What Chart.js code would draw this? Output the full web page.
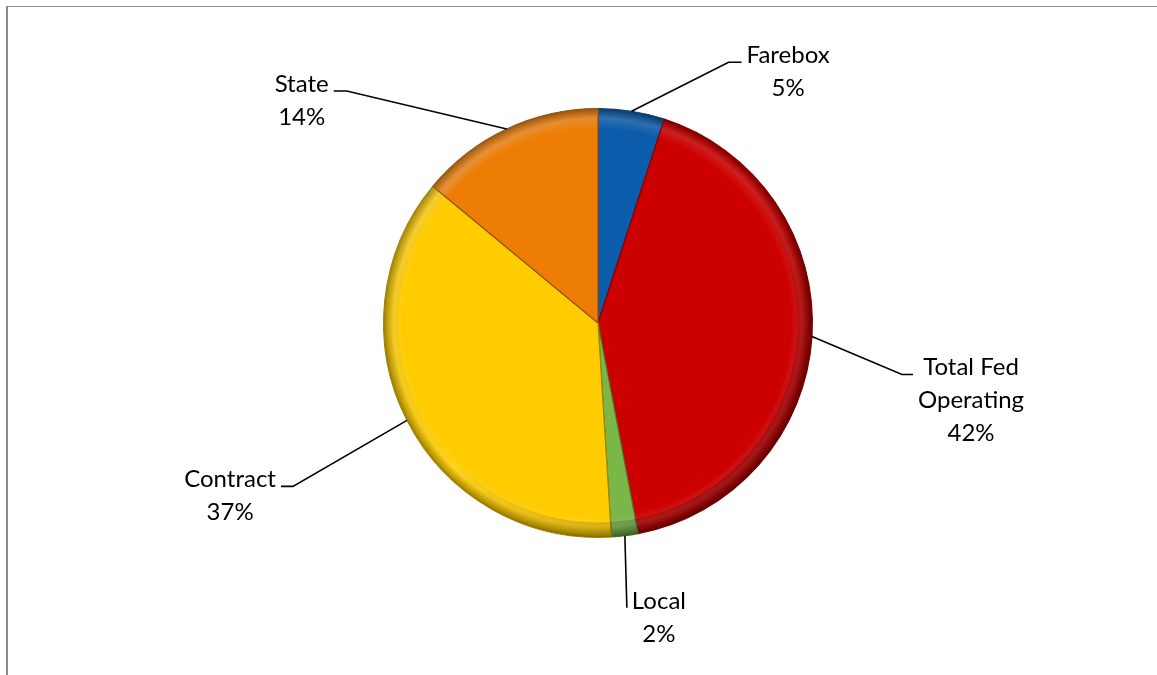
<!DOCTYPE html>
<html>
<head>
<meta charset="utf-8">
<script src="https://cdn.jsdelivr.net/npm/chart.js@4/dist/chart.umd.min.js"></script>
<style>
  html, body { margin: 0; padding: 0; background: #fff; }
  #frame {
    position: absolute; left: 6px; top: 6px; right: 0; bottom: 0;
    border-left: 2px solid #8c8c8c; border-top: 1px solid #8c8c8c;
  }
  #chart { position: absolute; left: 0; top: 0; }
</style>
</head>
<body>
<div id="frame"></div>
<canvas id="chart" width="1157" height="675"></canvas>
<script>
// funding sources, clockwise from 12 o'clock
const categories = ['Farebox', 'Total Fed Operating', 'Local', 'Contract', 'State'];
const shares = [5, 42, 2, 37, 14];
const labelLines = [['Farebox'], ['Total Fed', 'Operating'], ['Local'], ['Contract'], ['State']];

const baseColors = ['#0b5dab', '#cc0000', '#7ab648', '#ffcc00', '#ee7d06'];

// leader line elbow relative to the slice edge, then a short horizontal tail
const leaders = [
    { dx: 97, dy: -49, tail: 13 },
    { dx: 90, dy: 38, tail: 11 },
    { dx: 2, dy: 72, tail: 0 },
    { dx: -114, dy: 66, tail: -12 },
    { dx: -160, dy: -38, tail: -13 }
];

const FONT = '24px Lato, "Open Sans", sans-serif';
const LINE_H = 33;

function shade(hex, f) {
    const n = parseInt(hex.slice(1), 16);
    let r = n >> 16, g = (n >> 8) & 255, b = n & 255;
    const mix = (c) => f < 0 ? Math.round(c * (1 + f)) : Math.round(c + (255 - c) * f);
    return `rgb(${mix(r)},${mix(g)},${mix(b)})`;
}

function sliceFill(ctx) {
    const chart = ctx.chart;
    const base = baseColors[ctx.dataIndex];
    const area = chart.chartArea;
    if (!area) return base;
    const cx = (area.left + area.right) / 2;
    const cy = (area.top + area.bottom) / 2;
    const r = Math.min(area.right - area.left, area.bottom - area.top) / 2;
    const g = chart.ctx.createRadialGradient(cx - r * 0.04, cy - r * 0.04, 0, cx, cy, r);
    g.addColorStop(0, base);
    g.addColorStop(0.9, base);
    g.addColorStop(0.95, shade(base, 0.12));
    g.addColorStop(0.985, shade(base, -0.25));
    g.addColorStop(1, shade(base, -0.45));
    return g;
}

// directional light on the rim: brighter top-left, darker bottom-right
const rimLight = {
    id: 'rimLight',
    afterDatasetsDraw(chart) {
        const arc = chart.getDatasetMeta(0).data[0];
        if (!arc) return;
        const ctx = chart.ctx;
        const cx = arc.x, cy = arc.y, r = arc.outerRadius;
        const g = ctx.createLinearGradient(cx - r, cy - r, cx + r, cy + r);
        g.addColorStop(0, 'rgba(255,255,255,0.18)');
        g.addColorStop(0.5, 'rgba(0,0,0,0)');
        g.addColorStop(1, 'rgba(0,0,0,0.32)');
        ctx.save();
        ctx.beginPath();
        ctx.arc(cx, cy, r, 0, Math.PI * 2);
        ctx.arc(cx, cy, r * 0.93, 0, Math.PI * 2, true);
        ctx.fillStyle = g;
        ctx.fill('evenodd');
        ctx.restore();
    }
};

const leaderLabels = {
    id: 'leaderLabels',
    afterDatasetsDraw(chart) {
        const ctx = chart.ctx;
        const arcs = chart.getDatasetMeta(0).data;
        ctx.save();
        ctx.font = FONT;
        ctx.fillStyle = '#000';
        ctx.strokeStyle = '#000';
        ctx.lineWidth = 1.6;
        arcs.forEach((arc, i) => {
            const mid = (arc.startAngle + arc.endAngle) / 2;
            const ex = arc.x + Math.cos(mid) * arc.outerRadius;
            const ey = arc.y + Math.sin(mid) * arc.outerRadius;
            const L = leaders[i];
            const bx = ex + L.dx, by = ey + L.dy;
            const tx = bx + L.tail;
            ctx.beginPath();
            ctx.moveTo(ex, ey);
            ctx.lineTo(bx, by);
            ctx.lineTo(tx, by);
            ctx.stroke();

            const lines = labelLines[i].concat([shares[i] + '%']);
            const w = Math.max(...lines.map(s => ctx.measureText(s).width));
            const cx = L.tail < 0 ? tx - 5 - w / 2 : tx + 5 + w / 2;
            ctx.textAlign = 'center';
            ctx.textBaseline = 'alphabetic';
            lines.forEach((s, k) => ctx.fillText(s, cx, by + 1 + k * LINE_H));
        });
        ctx.restore();
    }
};

new Chart(document.getElementById('chart'), {
    type: 'pie',
    data: {
        labels: categories,
        datasets: [{
            data: shares,
            backgroundColor: sliceFill,
            borderColor: baseColors.map(c => shade(c, -0.35)),
            borderWidth: 1.2
        }]
    },
    options: {
        responsive: false,
        animation: false,
        devicePixelRatio: 1,
        layout: { padding: { left: 383, right: 344, top: 108, bottom: 137 } },
        plugins: {
            legend: { display: false },
            tooltip: { enabled: false }
        }
    },
    plugins: [rimLight, leaderLabels]
});
</script>
</body>
</html>
